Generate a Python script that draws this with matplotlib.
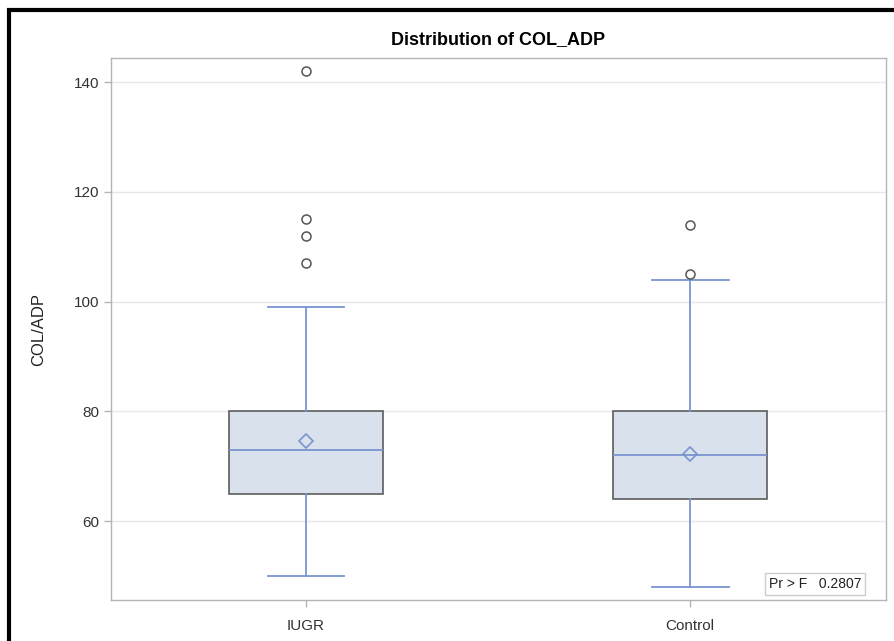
import matplotlib
matplotlib.use("Agg")
import matplotlib.pyplot as plt
from matplotlib.patches import Rectangle

plt.rcParams['font.family'] = ['Liberation Sans', 'DejaVu Sans']

categories = ["IUGR", "Control"]
whislo = [50, 48]
q1 = [65, 64]
med = [73, 72]
q3 = [80, 80]
whishi = [99, 104]
means = [74.6, 72.3]
fliers = [[107, 112, 115, 142], [105, 114]]
yticks = [60, 80, 100, 120, 140]
pvalue_text = "Pr > F   0.2807"

fig = plt.figure(figsize=(8.94, 6.41), dpi=100)
ax = fig.add_axes([111/894, 1-600/641, (886-111)/894, (600-58)/641])

stats = []
for i, c in enumerate(categories):
    stats.append(dict(label=c, whislo=whislo[i], q1=q1[i], med=med[i], q3=q3[i],
                      whishi=whishi[i], mean=means[i], fliers=fliers[i]))

blue = "#7a94d0"
ax.bxp(stats, positions=[0, 1], widths=0.4, showmeans=True, patch_artist=True,
       boxprops=dict(facecolor="#d9e1ec", edgecolor="#5c5c5c", linewidth=1.2),
       medianprops=dict(color=blue, linewidth=1.3),
       whiskerprops=dict(color=blue, linewidth=1.3),
       capprops=dict(color=blue, linewidth=1.3),
       capwidths=0.2,
       meanprops=dict(marker="D", markerfacecolor="none", markeredgecolor=blue,
                      markersize=7.5, markeredgewidth=1.2),
       flierprops=dict(marker="o", markerfacecolor="none", markeredgecolor="#555555",
                       markersize=6.5, markeredgewidth=1.1))

ax.set_xlim(-0.508, 1.51)
ax.set_ylim(45.6, 144.4)
ax.set_yticks(yticks)
ax.set_yticklabels([str(t) for t in yticks])
ax.grid(axis='y', color="#e8e8e8", linewidth=1)
ax.set_axisbelow(True)
for s in ax.spines.values():
    s.set_color("#b4b4b4")
    s.set_linewidth(1)
ax.tick_params(axis='both', colors="#b4b4b4", labelcolor="#333333", labelsize=11, length=5, width=1)
ax.tick_params(axis='x', pad=9)
ax.set_ylabel("COL/ADP", fontsize=12, color="#222222", labelpad=20)
ax.set_title("Distribution of COL_ADP", fontsize=13, fontweight="bold", pad=10)

ax.text(0.968, 0.016, pvalue_text, transform=ax.transAxes, ha="right", va="bottom",
        fontsize=10, color="#222222",
        bbox=dict(boxstyle="square,pad=0.3", facecolor="white", edgecolor="#cccccc", linewidth=1))

fig.patches.append(Rectangle((9/894, -0.05), 1.2, 1-10/641+0.05, transform=fig.transFigure,
                             fill=False, edgecolor="black", linewidth=3))

fig.savefig("out.png", dpi=100)
